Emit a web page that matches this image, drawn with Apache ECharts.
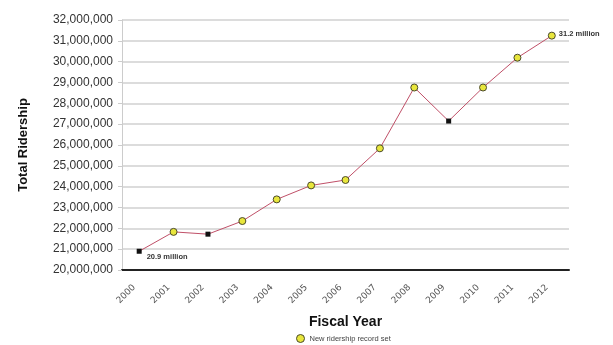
<!DOCTYPE html>
<html><head><meta charset="utf-8">
<script src="https://cdn.jsdelivr.net/npm/echarts@6/dist/echarts.min.js"></script>
<style>html,body{margin:0;padding:0;background:#fff}#c{width:613px;height:345px}</style>
</head><body><div id="c"></div>
<script>
const years = ['2000','2001','2002','2003','2004','2005','2006','2007','2008','2009','2010','2011','2012'];
const ridership = [20900000, 21830000, 21720000, 22350000, 23390000, 24060000, 24320000, 25840000, 28760000, 27150000, 28760000, 30190000, 31250000];
const recordSet = [false, true, false, true, true, true, true, true, true, false, true, true, true];
const labelTexts = ['20.9 million', '', '', '', '', '', '', '', '', '', '', '', '31.2 million'];
const yTicks = [20000000, 32000000, 1000000];

const chart = echarts.init(document.getElementById('c'));
const items = ridership.map((v, i) => {
  const it = { value: v };
  if (recordSet[i]) {
    it.symbol = 'circle'; it.symbolSize = 7;
    it.itemStyle = { color: '#e8e63c', borderColor: '#4a4a2a', borderWidth: 1 };
  } else {
    it.symbol = 'rect'; it.symbolSize = 5;
    it.itemStyle = { color: '#111', borderColor: '#111', borderWidth: 0 };
  }
  if (labelTexts[i]) {
    it.label = { show: true, formatter: labelTexts[i], position: 'right',
      offset: i === 0 ? [0, 6] : [-2, -2], fontSize: 7.5, fontWeight: 'bold',
      color: '#333', fontFamily: 'Liberation Sans' };
  }
  return it;
});
chart.setOption({
  backgroundColor: '#fff',
  animation: false,
  grid: { left: 122, right: 44, top: 20, bottom: 75 },
  legend: {
    left: 291, top: 329, itemWidth: 8, itemHeight: 8, itemGap: 4,
    data: [{ name: 'New ridership record set', icon: 'circle',
      itemStyle: { color: '#e8e63c', borderColor: '#4a4a2a', borderWidth: 1 } }],
    textStyle: { fontSize: 7.5, color: '#444', fontFamily: 'Liberation Sans' }
  },
  xAxis: {
    type: 'category', data: years, boundaryGap: true,
    name: 'Fiscal Year', nameLocation: 'middle', nameGap: 45,
    nameTextStyle: { fontSize: 14, fontWeight: 'bold', color: '#111', fontFamily: 'Liberation Sans' },
    axisLine: { lineStyle: { color: '#222', width: 2 } },
    axisTick: { show: false },
    axisLabel: { rotate: 45, fontSize: 9, color: '#555', fontFamily: 'DejaVu Sans', margin: 11,
      padding: [0, 7, 0, 0] }
  },
  yAxis: {
    type: 'value', min: yTicks[0], max: yTicks[1], interval: yTicks[2],
    name: 'Total Ridership', nameLocation: 'middle', nameGap: 92,
    nameTextStyle: { fontSize: 13, fontWeight: 'bold', color: '#111', fontFamily: 'Liberation Sans' },
    axisLine: { show: true, lineStyle: { color: '#ccc', width: 1 } },
    axisTick: { show: true, length: 4, lineStyle: { color: '#ccc' } },
    axisLabel: { fontSize: 12, color: '#333', fontFamily: 'Liberation Sans', margin: 9,
      formatter: v => v.toLocaleString('en-US') },
    splitLine: { lineStyle: { color: '#d0d0d0', width: 1.5 } }
  },
  series: [{
    name: 'New ridership record set', type: 'line', data: items,
    lineStyle: { color: '#c05068', width: 1 },
    itemStyle: { color: '#e8e63c' },
    z: 3
  }]
});
</script></body></html>
